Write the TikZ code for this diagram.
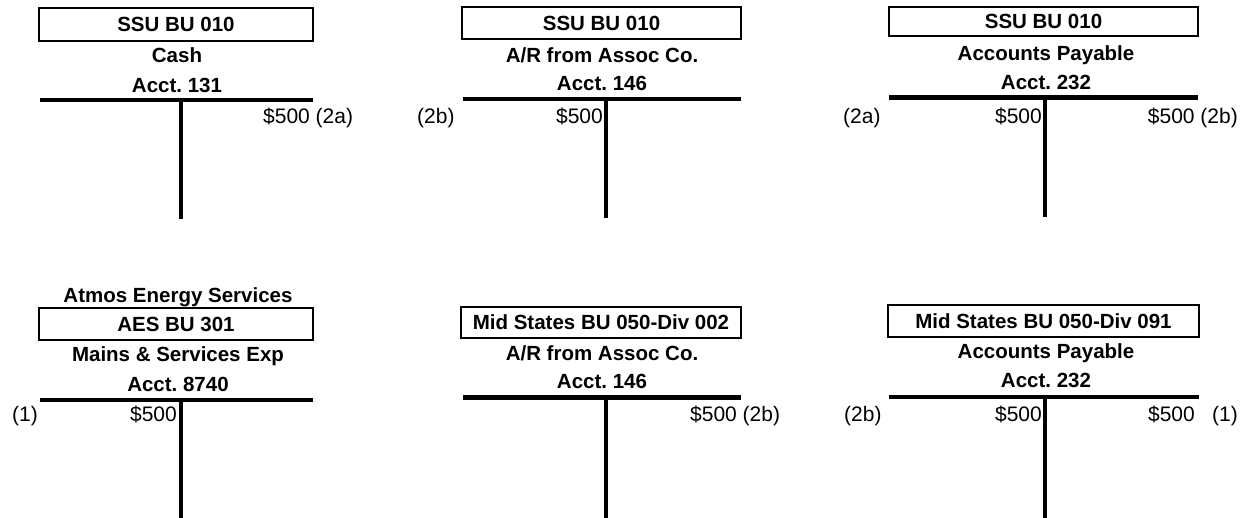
\documentclass[tikz,border=0pt]{standalone}
\usepackage{fontspec}
\setmainfont{Liberation Sans}
\frenchspacing
\begin{document}
\begin{tikzpicture}[x=1pt,y=-1pt,
  titlebox/.style={draw, line width=2pt, inner sep=0pt, font=\fontsize{20.5}{24}\selectfont\bfseries},
  ttl/.style={anchor=base, inner sep=0pt, font=\fontsize{20.5}{24}\selectfont\bfseries},
  amtL/.style={anchor=base west, inner sep=0pt, font=\fontsize{21}{25}\selectfont},
  amtR/.style={anchor=base east, inner sep=0pt, font=\fontsize{21}{25}\selectfont},
  hbar/.style={line width=4.5pt},
  vbar/.style={line width=3.5pt}]
\useasboundingbox (0,0) rectangle (1248,518);

% ---------- T1: SSU Cash ----------
\node[titlebox, minimum width=274pt, minimum height=33pt] (b1) at (176,24.5) {SSU BU 010};
\node[ttl] (n1a) at (177,63) {Cash};
\node[ttl] (n1b) at (177,92.5) {Acct.\ 131};
\coordinate (h1l) at (40,100); \coordinate (h1r) at (313,100);
\coordinate (v1t) at (181,100); \coordinate (v1b) at (181,219);
\draw[hbar] (h1l) -- (h1r);
\draw[vbar] (v1t) -- (v1b);
\node[amtL] (a1) at (263,123.5) {\$500 (2a)};

% ---------- T2: SSU A/R ----------
\node[titlebox, minimum width=279pt, minimum height=32pt] (b2) at (601.5,23) {SSU BU 010};
\node[ttl] (n2a) at (602,62.5) {A/R from Assoc Co.};
\node[ttl] (n2b) at (602,90.5) {Acct.\ 146};
\coordinate (h2l) at (463,99); \coordinate (h2r) at (741,99);
\coordinate (v2t) at (606,99); \coordinate (v2b) at (606,218);
\draw[hbar] (h2l) -- (h2r);
\draw[vbar] (v2t) -- (v2b);
\node[amtL] (l2) at (417,123.5) {(2b)};
\node[amtR] (a2) at (603,123.5) {\$500};

% ---------- T3: SSU A/P ----------
\node[titlebox, minimum width=309pt, minimum height=29pt] (b3) at (1043.5,21.5) {SSU BU 010};
\node[ttl] (n3a) at (1046,60.5) {Accounts Payable};
\node[ttl] (n3b) at (1046,89.5) {Acct.\ 232};
\coordinate (h3l) at (889,97.5); \coordinate (h3r) at (1198,97.5);
\coordinate (v3t) at (1045,97.5); \coordinate (v3b) at (1045,217);
\draw[hbar] (h3l) -- (h3r);
\draw[vbar] (v3t) -- (v3b);
\node[amtL] (l3) at (843,123.5) {(2a)};
\node[amtR] (a3) at (1042,123.5) {\$500};
\node[amtR] (c3) at (1238,123.5) {\$500 (2b)};

% ---------- T4: AES Mains & Services ----------
\node[ttl] (n4t) at (178,303) {Atmos Energy Services};
\node[titlebox, minimum width=274pt, minimum height=32pt] (b4) at (176,324) {AES BU 301};
\node[ttl] (n4a) at (178,362) {Mains \& Services Exp};
\node[ttl] (n4b) at (178,392) {Acct.\ 8740};
\coordinate (h4l) at (40,400); \coordinate (h4r) at (313,400);
\coordinate (v4t) at (181,400); \coordinate (v4b) at (181,518);
\draw[hbar] (h4l) -- (h4r);
\draw[vbar] (v4t) -- (v4b);
\node[amtL] (l4) at (12,421.5) {(1)};
\node[amtR] (a4) at (177,421.5) {\$500};

% ---------- T5: Mid States A/R ----------
\node[titlebox, minimum width=280pt, minimum height=31pt] (b5) at (601,322.5) {Mid States BU 050-Div 002};
\node[ttl] (n5a) at (602,361) {A/R from Assoc Co.};
\node[ttl] (n5b) at (602,389) {Acct.\ 146};
\coordinate (h5l) at (463,397.5); \coordinate (h5r) at (741,397.5);
\coordinate (v5t) at (606,397.5); \coordinate (v5b) at (606,518);
\draw[hbar] (h5l) -- (h5r);
\draw[vbar] (v5t) -- (v5b);
\node[amtL] (a5) at (690,421.5) {\$500 (2b)};

% ---------- T6: Mid States A/P ----------
\node[titlebox, minimum width=311pt, minimum height=32pt] (b6) at (1043.5,321) {Mid States BU 050-Div 091};
\node[ttl] (n6a) at (1046,359) {Accounts Payable};
\node[ttl] (n6b) at (1046,388) {Acct.\ 232};
\coordinate (h6l) at (889,397); \coordinate (h6r) at (1199,397);
\coordinate (v6t) at (1045,397); \coordinate (v6b) at (1045,518);
\draw[hbar] (h6l) -- (h6r);
\draw[vbar] (v6t) -- (v6b);
\node[amtL] (l6) at (844,421.5) {(2b)};
\node[amtR] (a6) at (1042,421.5) {\$500};
\node[amtR] (c6) at (1195,421.5) {\$500};
\node[amtR] (r6) at (1238,421.5) {(1)};
\end{tikzpicture}
\end{document}
